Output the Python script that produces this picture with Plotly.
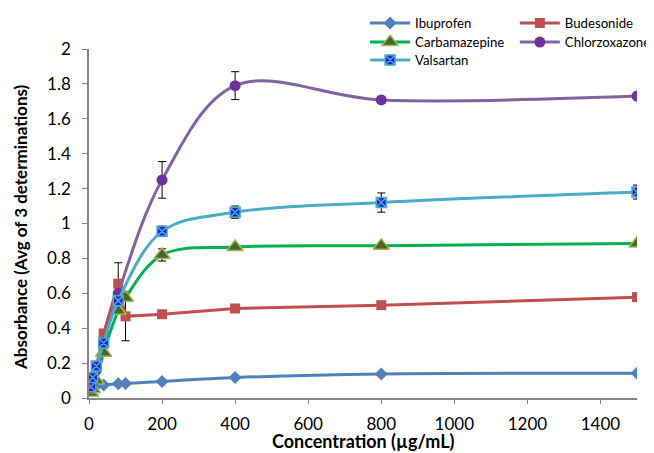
import plotly.graph_objects as go

conc = [5, 10, 20, 40, 80, 100, 200, 400, 800, 1500]
conc_short = [5, 10, 20, 40, 80, 200, 400, 800, 1500]

ibuprofen = [0.05, 0.06, 0.07, 0.075, 0.082, 0.083, 0.095, 0.117, 0.138, 0.142]
ibuprofen_err = [0, 0, 0, 0, 0, 0, 0, 0, 0, 0]

budesonide = [0.07, 0.10, 0.18, 0.37, 0.655, 0.468, 0.48, 0.513, 0.532, 0.578]
budesonide_err = [0, 0, 0, 0, 0.12, 0.14, 0, 0, 0, 0]

carbamazepine = [0.03, 0.05, 0.10, 0.26, 0.50, 0.575, 0.82, 0.865, 0.873, 0.885]
carbamazepine_err = [0, 0, 0, 0, 0, 0.02, 0.035, 0.015, 0, 0]

chlorzoxazone = [0.06, 0.09, 0.16, 0.32, 0.60, 1.25, 1.79, 1.708, 1.73]
chlorzoxazone_err = [0, 0, 0, 0, 0, 0.105, 0.08, 0.02, 0.01]

valsartan = [0.065, 0.118, 0.183, 0.315, 0.558, 0.955, 1.065, 1.12, 1.18]
valsartan_err = [0, 0, 0, 0, 0, 0.03, 0.035, 0.055, 0.04]

y_ticks = [0, 0.2, 0.4, 0.6, 0.8, 1, 1.2, 1.4, 1.6, 1.8, 2]
y_tick_text = ["0", "0.2", "0.4", "0.6", "0.8", "1", "1.2", "1.4", "1.6", "1.8", "2"]
x_ticks = [0, 200, 400, 600, 800, 1000, 1200, 1400]

FONT = "Lato, 'DejaVu Sans', sans-serif"

def err(vals):
    return dict(type="data", array=vals, visible=True, color="black", thickness=1, width=4)

fig = go.Figure()

fig.add_trace(go.Scatter(
    x=conc, y=ibuprofen, name="Ibuprofen", mode="lines+markers",
    line=dict(color="#4F81BD", width=3, shape="spline", smoothing=0.8),
    marker=dict(symbol="diamond", size=10, color="#4F81BD"),
    error_y=err(ibuprofen_err), legend="legend"))

fig.add_trace(go.Scatter(
    x=conc, y=budesonide, name="Budesonide", mode="lines+markers",
    line=dict(color="#C0504D", width=3),
    marker=dict(symbol="square", size=10, color="#C0504D"),
    error_y=err(budesonide_err), legend="legend2"))

fig.add_trace(go.Scatter(
    x=conc, y=carbamazepine, name="Carbamazepine", mode="lines+markers",
    line=dict(color="#00B050", width=3, shape="spline", smoothing=1),
    marker=dict(symbol="triangle-up", size=14, color="#4F6228",
                line=dict(color="#9BBB59", width=1.5)),
    error_y=err(carbamazepine_err), legend="legend3"))

fig.add_trace(go.Scatter(
    x=conc_short, y=chlorzoxazone, name="Chlorzoxazone", mode="lines+markers",
    line=dict(color="#8064A2", width=3, shape="spline", smoothing=1),
    marker=dict(symbol="circle", size=11, color="#7030A0"),
    error_y=err(chlorzoxazone_err), legend="legend4"))

fig.add_trace(go.Scatter(
    x=conc_short, y=valsartan, name="Valsartan", mode="lines+markers",
    line=dict(color="#4BACC6", width=3, shape="spline", smoothing=1),
    marker=dict(symbol="square-x", size=10, color="#2020E0",
                line=dict(color="#4BACC6", width=1.5)),
    error_y=err(valsartan_err), legend="legend5"))

legend_common = dict(font=dict(family=FONT, size=13.2, color="#000000"),
                     bgcolor="rgba(0,0,0,0)", orientation="v",
                     xref="container", yref="container",
                     xanchor="left", yanchor="top", tracegroupgap=0,
                     itemwidth=40)

COL1, COL2 = 0.546, 0.775
ROW1, ROW2, ROW3 = 1.0, 0.958, 0.9183

fig.update_layout(
    width=654, height=453,
    margin=dict(l=81, r=25, t=41, b=63, autoexpand=False),
    paper_bgcolor="white", plot_bgcolor="white",
    font=dict(family=FONT, size=17, color="#000000"),
    showlegend=True,
    legend=dict(x=COL1, y=ROW1, **legend_common),
    legend2=dict(x=COL2, y=ROW1, **legend_common),
    legend3=dict(x=COL1, y=ROW2, **legend_common),
    legend4=dict(x=COL2, y=ROW2, **legend_common),
    legend5=dict(x=COL1, y=ROW3, **legend_common),
    xaxis=dict(range=[0, 1500], tickvals=x_ticks, showgrid=False, zeroline=False,
               showline=True, linecolor="#868686", linewidth=1.5,
               ticks="outside", ticklen=4, tickcolor="#868686",
               automargin=False, ticklabelstandoff=6,
               tickfont=dict(family=FONT, size=17)),
    yaxis=dict(range=[0, 2], tickvals=y_ticks, ticktext=y_tick_text,
               showgrid=False, zeroline=False,
               showline=True, linecolor="#868686", linewidth=1.5,
               ticks="outside", ticklen=5, tickcolor="#868686",
               automargin=False, ticklabelstandoff=8,
               tickfont=dict(family=FONT, size=17)),
    annotations=[
        dict(text="<b>Concentration (µg/mL)</b>", xref="paper", yref="paper",
             x=0.5, y=-0.123, xanchor="center", yanchor="middle",
             showarrow=False, font=dict(family=FONT, size=18)),
        dict(text="<b>Absorbance (Avg of 3 determinations)</b>", xref="paper",
             yref="paper", x=-0.1241, y=0.49, xanchor="center",
             yanchor="middle", textangle=-90, showarrow=False,
             font=dict(family=FONT, size=17)),
    ],
)

fig.write_html("out.html")
